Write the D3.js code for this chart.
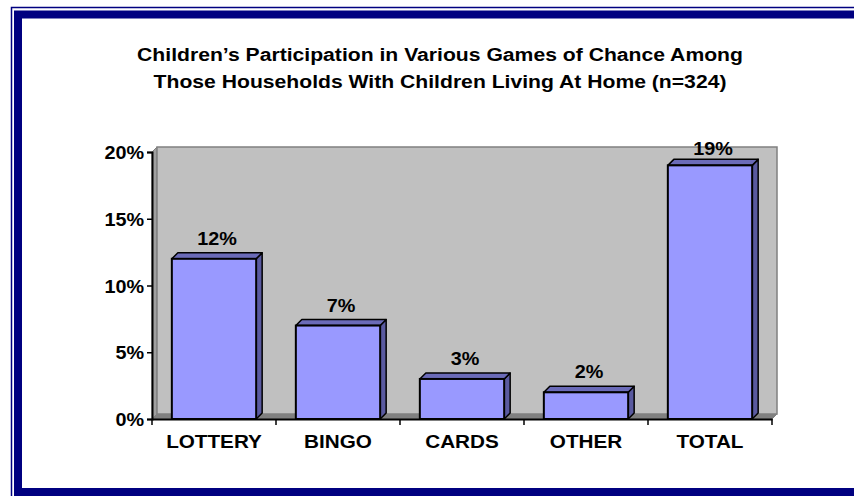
<!DOCTYPE html>
<html>
<head>
<meta charset="utf-8">
<script src="https://cdn.jsdelivr.net/npm/d3@7"></script>
<style>
  html, body { margin: 0; padding: 0; background: #fff; }
  svg { display: block; }
  text { font-family: Arial, "Liberation Sans", sans-serif; font-weight: bold; fill: #000; }
</style>
</head>
<body>
<svg id="chart" width="854" height="496"></svg>
<script>
// Data
const categories = ["LOTTERY", "BINGO", "CARDS", "OTHER", "TOTAL"];
const values = [12, 7, 3, 2, 19];            // percent of households
const yTicks = [0, 5, 10, 15, 20];
const titleLines = [
  "Children\u2019s Participation in Various Games of Chance Among",
  "Those Households With Children Living At Home (n=324)"
];

const svg = d3.select("#chart");
const navy = "#000080";
const stretch = 1.15;   // wide type, as in the original slide

// Frame: thin outer rule plus thick inner band
svg.append("rect").attr("x", 11.5).attr("y", 7.5).attr("width", 900).attr("height", 520)
  .attr("fill", "none").attr("stroke", navy).attr("stroke-width", 1.5);
svg.append("rect").attr("x", 18).attr("y", 14.5).attr("width", 900).attr("height", 477.5)
  .attr("fill", "none").attr("stroke", navy).attr("stroke-width", 8);

// Title
svg.selectAll("text.title").data(titleLines).join("text")
  .attr("class", "title")
  .attr("text-anchor", "middle")
  .attr("font-size", 18.4)
  .attr("transform", (d, i) => `translate(440,${61 + i * 27}) scale(${stretch},1)`)
  .text(d => d);

// Scales
const x = d3.scaleBand().domain(categories).range([152, 772]).paddingInner(0.32).paddingOuter(0.16);
const y = d3.scaleLinear().domain([0, 20]).range([419, 152]);
const dx = 5, dy = -5;       // depth of the 3-D walls
const bdx = 6, bdy = -6;     // depth of the columns

const x0 = x.range()[0], x1 = x.range()[1];
const yTop = y(20), yBot = y(0);

// Floor
svg.append("path")
  .attr("d", `M${x0},${yBot}L${x1},${yBot}L${x1 + dx},${yBot + dy}L${x0 + dx},${yBot + dy}Z`)
  .attr("fill", "#808080").attr("stroke", "#808080").attr("stroke-width", 1);
// Left side wall
svg.append("path")
  .attr("d", `M${x0},${yBot}L${x0},${yTop}L${x0 + dx},${yTop + dy}L${x0 + dx},${yBot + dy}Z`)
  .attr("fill", "#a0a0a0").attr("stroke", "#808080").attr("stroke-width", 1);
// Back wall
svg.append("rect")
  .attr("x", x0 + dx).attr("y", yTop + dy)
  .attr("width", x1 - x0).attr("height", yBot - yTop)
  .attr("fill", "#c0c0c0").attr("stroke", "#808080").attr("stroke-width", 1.5);

// Columns
const bars = svg.append("g").selectAll("g").data(categories).join("g");
const frontFill = "#9999ff", sideFill = "#5a5aa0", topFill = "#6b6bb8";
bars.each(function(c, i) {
  const g = d3.select(this);
  const bx = x(c), bw = x.bandwidth(), by = y(values[i]);
  // side face
  g.append("path")
    .attr("d", `M${bx + bw},${yBot}L${bx + bw},${by}L${bx + bw + bdx},${by + bdy}L${bx + bw + bdx},${yBot + bdy}Z`)
    .attr("fill", sideFill).attr("stroke", "#000").attr("stroke-width", 1.5).attr("stroke-linejoin", "round");
  // top face
  g.append("path")
    .attr("d", `M${bx},${by}L${bx + bdx},${by + bdy}L${bx + bw + bdx},${by + bdy}L${bx + bw},${by}Z`)
    .attr("fill", topFill).attr("stroke", "#000").attr("stroke-width", 1.5).attr("stroke-linejoin", "round");
  // front face
  g.append("rect")
    .attr("x", bx).attr("y", by).attr("width", bw).attr("height", yBot - by)
    .attr("fill", frontFill).attr("stroke", "#000").attr("stroke-width", 2);
});

// Value labels
svg.append("g").selectAll("text").data(categories).join("text")
  .attr("text-anchor", "middle")
  .attr("font-size", 18)
  .attr("transform", (c, i) => `translate(${x(c) + x.bandwidth() / 2 + 3},${y(values[i]) - (values[i] > 15 ? 10 : 14)}) scale(1.1,1)`)
  .text((c, i) => values[i] + "%");

// Y axis
const yAxis = svg.append("g").attr("transform", `translate(${x0},0)`)
  .call(d3.axisLeft(y).tickValues(yTicks).tickSize(5).tickFormat(d => d + "%"));
yAxis.select(".domain").attr("stroke", "#000").attr("stroke-width", 2);
yAxis.selectAll(".tick line").attr("stroke", "#000").attr("stroke-width", 1.5);
yAxis.selectAll(".tick text")
  .attr("font-size", 18).attr("font-family", null).attr("x", null).attr("dy", null)
  .attr("text-anchor", "end")
  .attr("transform", `translate(-8,6.5) scale(1.1,1)`);

// X axis
const xAxis = svg.append("g").attr("transform", `translate(0,${yBot})`)
  .call(d3.axisBottom(x).tickSize(0).tickSizeOuter(0));
xAxis.select(".domain").attr("stroke", "#000").attr("stroke-width", 2);
xAxis.selectAll(".tick text")
  .attr("font-size", 18).attr("font-family", null).attr("y", null).attr("dy", null)
  .attr("transform", `translate(0,29) scale(${stretch},1)`);
// Category separators
const seps = categories.map(c => x(c) - x.step() * x.paddingInner() / 2).concat([x1]);
xAxis.selectAll("line.sep").data(seps).join("line").attr("class", "sep")
  .attr("x1", d => d).attr("x2", d => d).attr("y1", 0).attr("y2", 6)
  .attr("stroke", "#000").attr("stroke-width", 1.5);
</script>
</body>
</html>
